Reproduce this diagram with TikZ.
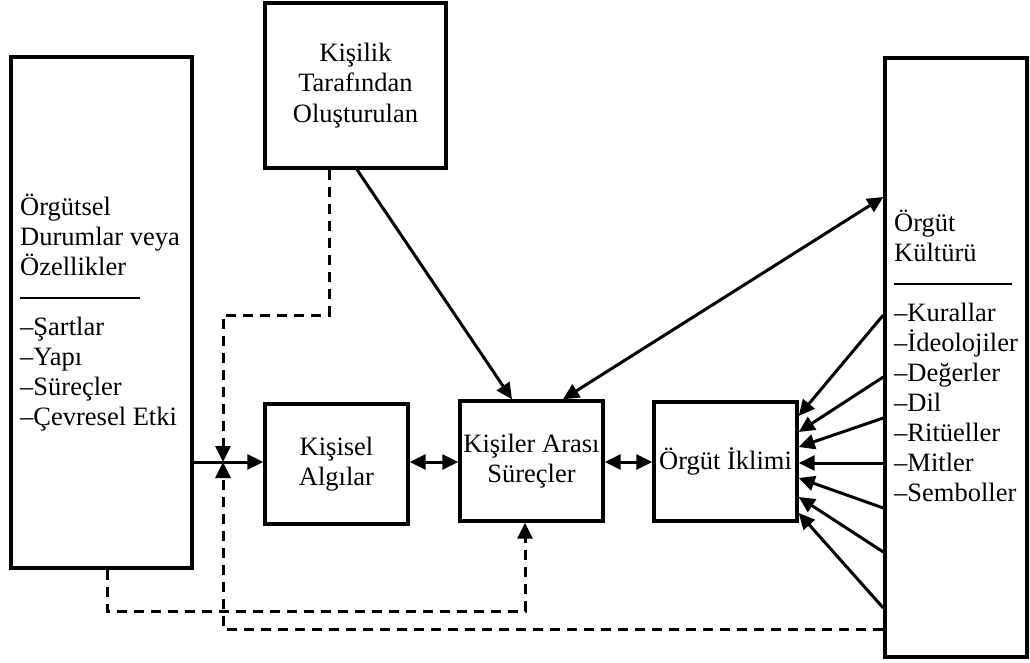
\documentclass[tikz,border=0pt]{standalone}
\usepackage{fontspec}
\setmainfont{Liberation Serif}
\usetikzlibrary{arrows.meta}
\begin{document}
\begin{tikzpicture}[x=1pt,y=-1pt,
  box/.style={draw,line width=3.4pt,rectangle,inner sep=0pt,align=center,
    font=\fontsize{26.5}{30.5}\selectfont},
  txt/.style={inner sep=0pt,align=left,anchor=west,
    font=\fontsize{26.5}{30}\selectfont},
  conn/.style={line width=3pt},
  tip/.style={conn,-{Triangle[length=16pt,width=15pt]}},
  tips/.style={conn,{Triangle[length=16pt,width=15pt]}-{Triangle[length=16pt,width=15pt]}},
  dsh/.style={dash pattern=on 10pt off 7pt}]
\useasboundingbox (0,0) rectangle (1030,663);
\fill[white] (0,0) rectangle (1030,663);

% boxes
\node[box,minimum width=181pt,minimum height=511pt] (lb) at (101.5,312.5) {};
\node[box,minimum width=181pt,minimum height=165pt] (kl) at (355.5,85.5)
  {Kişilik\\Tarafından\\Oluşturulan};
\node[box,minimum width=143pt,minimum height=120pt] (ka) at (336.5,464)
  {Kişisel\\Algılar};
\node[box,minimum width=143pt,minimum height=120pt] (kp) at (531.5,461)
  {Kişiler Arası\\Süreçler};
\node[box,minimum width=143pt,minimum height=119pt] (ik) at (725.5,461.5)
  {Örgüt İklimi};
\node[box,minimum width=142pt,minimum height=599pt] (rb) at (956,357.5) {};

% box contents
\node[txt] (lbt) at (20,313)
  {Örgütsel\\Durumlar veya\\Özellikler\\\rule[7pt]{120pt}{1.5pt}\\
   –Şartlar\\–Yapı\\–Süreçler\\–Çevresel Etki};
\node[txt] (rbt) at (894,356)
  {Örgüt\\Kültürü\\\rule[7pt]{118pt}{1.5pt}\\–Kurallar\\–İdeolojiler\\
   –Değerler\\–Dil\\–Ritüeller\\–Mitler\\–Semboller};

% junction and bend points
\coordinate (jn) at (223,462);
\coordinate (d1) at (329,315);
\coordinate (d2) at (525,611);

% solid connectors
\draw[tip] (lb.east |- jn) -- (ka.west |- jn);
\draw[tips] (ka.east |- jn) -- (kp.west |- jn);
\draw[tips] (kp.east |- jn) -- (ik.west |- jn);
\draw[tip] (kl.south -| 357,0) -- (kp.north -| 512,0);
\draw[tips] (rb.west |- 0,197) -- (kp.north -| 563,0);
\foreach \ya/\yb in {315/416,377/432,418/447,463/463,508/478,552/497,608/513}
  \draw[tip] (rb.west |- 0,\ya) -- (ik.east |- 0,\yb);

% dashed feedback connectors
\draw[tip,dsh] (kl.south -| d1) -- (d1) -| (jn);
\draw[tip,dsh] (rb.west |- 0,629) -| (jn);
\draw[tip,dsh] (lb.south -| 107,0) |- (d2) -- (kp.south -| d2);
\end{tikzpicture}
\end{document}
